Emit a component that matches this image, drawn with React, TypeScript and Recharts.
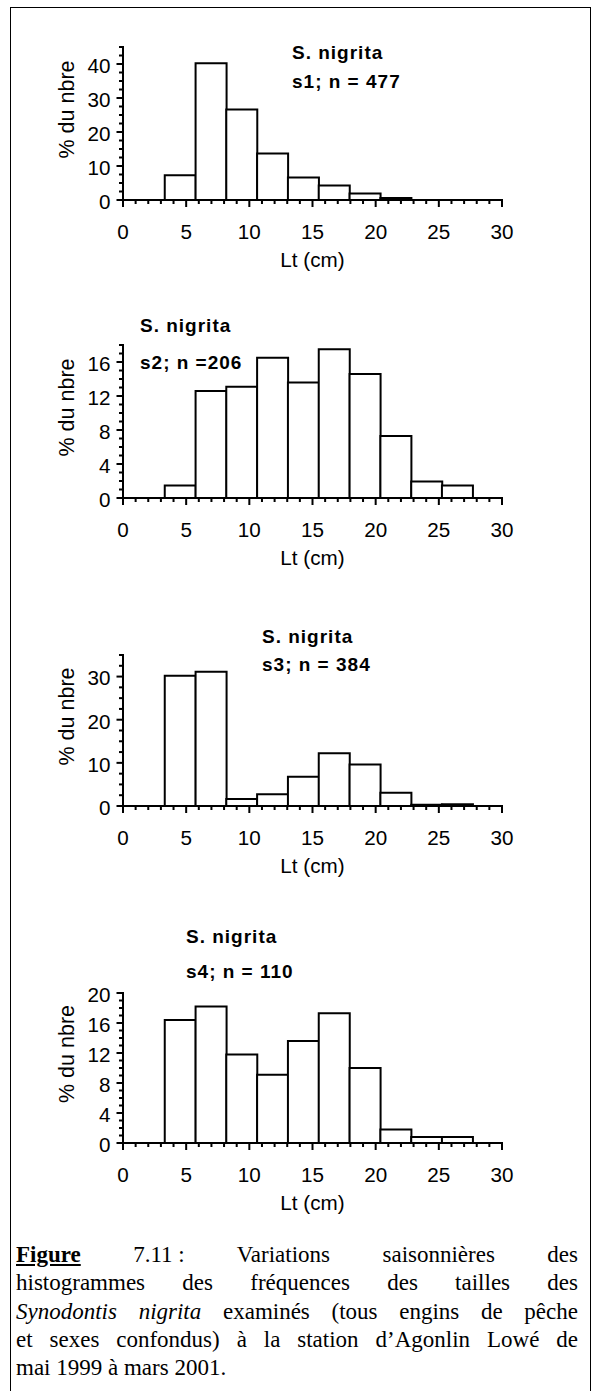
import { Bar, BarChart, XAxis, YAxis } from "recharts";

// class midpoints of total length Lt (cm)
const classMid = [4.52, 6.96, 9.39, 11.83, 14.27, 16.71, 19.15, 21.59, 24.03, 26.46];

// % du nombre per class, one list per season
const s1 = [7.3, 40.2, 26.6, 13.7, 6.6, 4.3, 1.9, 0.6];
const s2 = [1.46, 12.6, 13.1, 16.5, 13.6, 17.5, 14.6, 7.3, 1.94, 1.46];
const s3 = [30.2, 31.1, 1.6, 2.7, 6.8, 12.2, 9.6, 3.1, 0.3, 0.4];
const s4 = [16.4, 18.2, 11.8, 9.1, 13.6, 17.3, 10.0, 1.8, 0.8, 0.8];

const species = "S. nigrita";
const subtitles = ["s1; n = 477", "s2; n =206", "s3; n = 384", "s4; n = 110"];

const xMajor = [0, 5, 10, 15, 20, 25, 30];
const yMax = [45, 18, 35, 20];
const yMajor = [
  [0, 10, 20, 30, 40],
  [0, 4, 8, 12, 16],
  [0, 10, 20, 30],
  [0, 4, 8, 12, 16, 20],
];
const yMinorStep = [2.5, 1, 2.5, 1];

// page layout
const plotLeft = 123;
const plotRight = 502;
const plotTop = [47, 345, 655, 993];
const plotBottom = [200, 498, 806, 1143];
const titlePos = [
  { x: 292, y1: 53, y2: 82 },
  { x: 140, y1: 326, y2: 363 },
  { x: 262, y1: 637, y2: 665 },
  { x: 186, y1: 937, y2: 972 },
];

const SX = 1.06; // digits in the scan run a little wide
const sans = "'Liberation Sans', Arial, sans-serif";
const serif = "'Liberation Serif', 'Times New Roman', serif";
const TOP_PAD = 10;
const X_AXIS_H = 80;
const Y_AXIS_W = 60;
const LW = 2;

const xTicks = Array.from({ length: 31 }, (_, i) => i);

function XTick(props: any) {
  const { x, y, payload } = props;
  const major = xMajor.includes(payload.value);
  const len = major ? 7 : 4;
  return (
    <g>
      <rect x={x - LW / 2} y={y - 1} width={LW} height={len + 1} fill="#000" />
      {major && (
        <text
          transform={`translate(${x},${y + 32}) scale(${SX},1)`}
          textAnchor="middle"
          dominantBaseline="central"
          fontFamily={sans}
          fontSize={19.5}
          fill="#000"
        >
          {payload.value}
        </text>
      )}
    </g>
  );
}

function makeYTick(majors: number[]) {
  return function YTick(props: any) {
    const { x, y, payload } = props;
    const major = majors.includes(payload.value);
    const len = major ? 6.5 : 4;
    return (
      <g>
        <rect x={x - len} y={y - LW / 2} width={len + 1} height={LW} fill="#000" />
        {major && (
          <text
            transform={`translate(${x - 12.5},${y + 2}) scale(${SX},1)`}
            textAnchor="end"
            dominantBaseline="central"
            fontFamily={sans}
            fontSize={19.5}
            fill="#000"
          >
            {payload.value}
          </text>
        )}
      </g>
    );
  };
}

function Histogram({ idx, values }: { idx: number; values: number[] }) {
  const data = values.map((v, i) => ({ lt: classMid[i], pct: v }));
  const plotH = plotBottom[idx] - plotTop[idx];
  const height = plotH + TOP_PAD + X_AXIS_H;
  const step = yMinorStep[idx];
  const yTicks = Array.from({ length: Math.round(yMax[idx] / step) + 1 }, (_, i) => i * step);
  const midY = TOP_PAD + plotH / 2 - 14;
  const line = { stroke: "#000", strokeWidth: LW };
  return (
    <div style={{ position: "absolute", left: 0, top: plotTop[idx] - TOP_PAD }}>
      <BarChart
        width={592}
        height={height}
        data={data}
        margin={{ top: TOP_PAD, right: 592 - plotRight, bottom: 0, left: plotLeft - Y_AXIS_W }}
        barCategoryGap={0}
        barGap={0}
      >
        <XAxis
          dataKey="lt"
          type="number"
          domain={[0, 30]}
          ticks={xTicks}
          interval={0}
          height={X_AXIS_H}
          tickLine={false}
          tickSize={0}
          tickMargin={0}
          tick={<XTick />}
          axisLine={line}
          label={() => (
            <text
              transform={`translate(${(plotLeft + plotRight) / 2},${TOP_PAD + plotH + 60}) scale(${SX},1)`}
              textAnchor="middle"
              dominantBaseline="central"
              fontFamily={sans}
              fontSize={19.5}
              fill="#000"
            >
              Lt (cm)
            </text>
          )}
        />
        <YAxis
          type="number"
          domain={[0, yMax[idx]]}
          ticks={yTicks}
          interval={0}
          width={Y_AXIS_W}
          tickLine={false}
          tickSize={0}
          tickMargin={0}
          tick={makeYTick(yMajor[idx])}
          axisLine={line}
          label={() => (
            <text
              transform={`translate(67,${midY}) rotate(-90)`}
              textAnchor="middle"
              dominantBaseline="central"
              fontFamily={sans}
              fontSize={21.5}
              fill="#000"
            >
              % du nbre
            </text>
          )}
        />
        <Bar dataKey="pct" fill="#fff" stroke="#000" strokeWidth={LW} isAnimationActive={false} />
      </BarChart>
    </div>
  );
}

function Title({ idx }: { idx: number }) {
  const p = titlePos[idx];
  const line = (text: string, y: number) => (
    <div
      style={{
        position: "absolute",
        left: p.x,
        top: y - 11,
        height: 22,
        lineHeight: "22px",
        fontFamily: sans,
        fontWeight: "bold",
        fontSize: 19,
        letterSpacing: "1px",
        whiteSpace: "nowrap",
      }}
    >
      {text}
    </div>
  );
  return (
    <>
      {line(species, p.y1)}
      {line(subtitles[idx], p.y2)}
    </>
  );
}

const capLine = (content: React.ReactNode, i: number, last = false) => (
  <div
    key={i}
    style={{
      width: 562,
      height: 28.3,
      lineHeight: "28.3px",
      textAlign: "justify",
      textAlignLast: last ? "left" : "justify",
      whiteSpace: "nowrap",
    }}
  >
    {content}
  </div>
);

export default function App() {
  const series = [s1, s2, s3, s4];
  return (
    <div
      style={{
        position: "absolute",
        left: 0,
        top: 0,
        width: 592,
        height: 1391,
        background: "#fff",
        overflow: "hidden",
      }}
    >
      <div
        style={{
          position: "absolute",
          left: 10,
          top: 7,
          width: 581,
          height: 1420,
          boxSizing: "border-box",
          border: "1.5px solid #000",
        }}
      />
      {series.map((values, i) => (
        <Histogram key={i} idx={i} values={values} />
      ))}
      {series.map((_, i) => (
        <Title key={i} idx={i} />
      ))}
      <div
        style={{
          position: "absolute",
          left: 16,
          top: 1241,
          fontFamily: serif,
          fontSize: 23,
          color: "#000",
        }}
      >
        {capLine(
          <>
            <b>
              <u>Figure</u>
            </b>{" "}
            <span style={{ display: "inline-block" }}>7.11 :</span> Variations saisonnières des
          </>,
          0
        )}
        {capLine("histogrammes des fréquences des tailles des", 1)}
        {capLine(
          <>
            <i>Synodontis nigrita</i> examinés (tous engins de pêche
          </>,
          2
        )}
        {capLine("et sexes confondus) à la station d’Agonlin Lowé de", 3)}
        {capLine("mai 1999 à mars 2001.", 4, true)}
      </div>
    </div>
  );
}
